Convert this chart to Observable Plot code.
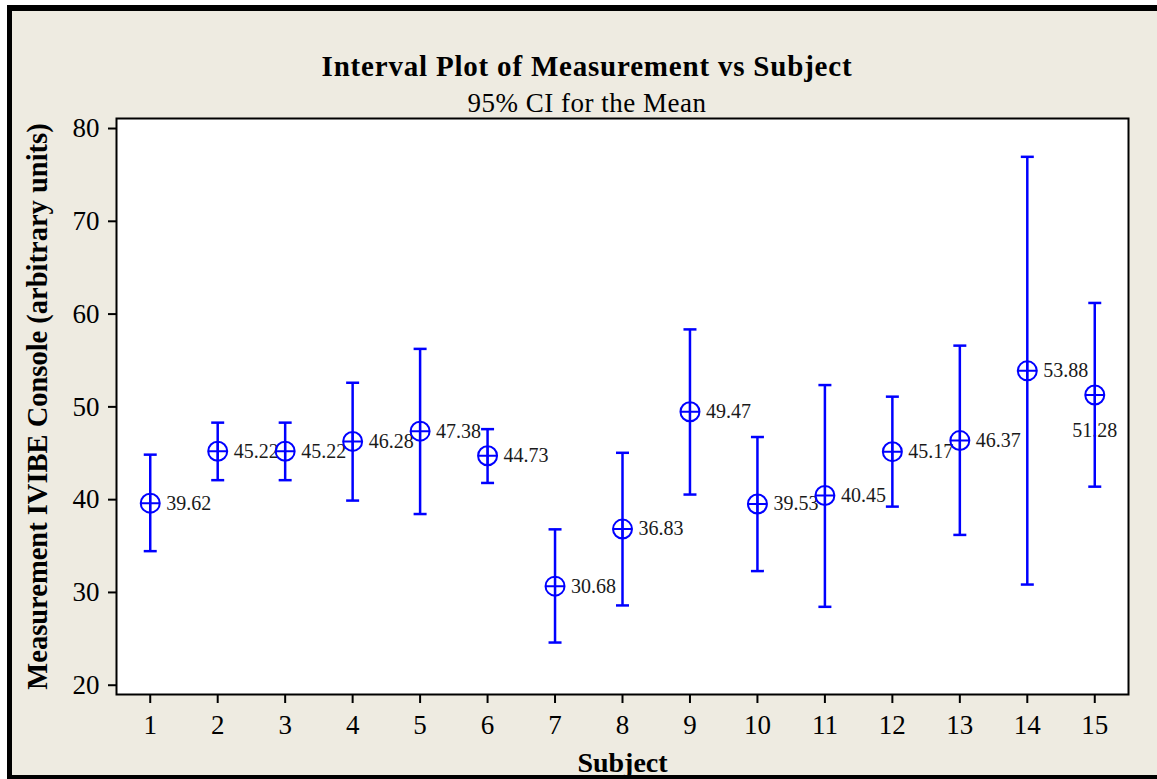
<!DOCTYPE html>
<html>
<head>
<meta charset="utf-8">
<script src="https://cdn.jsdelivr.net/npm/d3@7"></script>
<script src="https://cdn.jsdelivr.net/npm/@observablehq/plot@0.6"></script>
<style>
  html, body { margin: 0; padding: 0; background: #ffffff; }
  #page { position: relative; width: 1157px; height: 779px; overflow: hidden;
          font-family: "Liberation Serif", "Times New Roman", serif; }
  #bg { position: absolute; left: 7px; top: 5px; width: 1150px; height: 774px; box-sizing: border-box;
        background: #EEEBE1; border-top: 6px solid #000; border-left: 5px solid #000; border-bottom: 4px solid #000; }
  #title { position: absolute; left: 587px; top: 52px; transform: translateX(-50%);
           font-weight: bold; font-size: 29px; line-height: 29px; letter-spacing: 0.8px; white-space: nowrap; color: #000; }
  #subtitle { position: absolute; left: 587px; top: 90px; transform: translateX(-50%);
              font-size: 27px; line-height: 27px; letter-spacing: 0.5px; white-space: nowrap; color: #000; }
  #chart { position: absolute; left: 0; top: 100px; }
</style>
</head>
<body>
<div id="page">
  <div id="bg"></div>
  <div id="title">Interval Plot of Measurement vs Subject</div>
  <div id="subtitle">95% CI for the Mean</div>
  <div id="chart"></div>
</div>
<script>
// ---- data ----
const subjects = [1, 2, 3, 4, 5, 6, 7, 8, 9, 10, 11, 12, 13, 14, 15];
const means = [39.62, 45.22, 45.22, 46.28, 47.38, 44.73, 30.68, 36.83, 49.47, 39.53, 40.45, 45.17, 46.37, 53.88, 51.28];
const lower = [34.45, 42.10, 42.10, 39.90, 38.45, 41.80, 24.60, 28.60, 40.55, 32.30, 28.45, 39.25, 36.20, 30.85, 41.40];
const upper = [44.85, 48.30, 48.30, 52.60, 56.25, 47.60, 36.80, 45.05, 58.35, 46.75, 52.35, 51.10, 56.60, 76.95, 61.20];
const yTicks = [20, 30, 40, 50, 60, 70, 80];
const xLabel = "Subject";
const yLabel = "Measurement IVIBE Console (arbitrary units)";

const rows = subjects.map((s, i) => ({subject: s, mean: means[i], lo: lower[i], hi: upper[i], label: means[i].toFixed(2)}));
const labelRight = rows.filter(d => d.subject !== 15);
const labelBelow = rows.filter(d => d.subject === 15);

const BLUE = "#0000FF";
const capSymbol = {
  draw(ctx, size) {
    const r = Math.sqrt(size / Math.PI);
    ctx.moveTo(-r, 0); ctx.lineTo(r, 0);
  }
};
const circlePlus = {
  draw(ctx, size) {
    const r = Math.sqrt(size / Math.PI);
    ctx.moveTo(r, 0); ctx.arc(0, 0, r, 0, 2 * Math.PI);
    ctx.moveTo(-r, 0); ctx.lineTo(r, 0);
    ctx.moveTo(0, -r); ctx.lineTo(0, r);
  }
};

const chart = Plot.plot({
  width: 1157,
  height: 679,
  marginTop: 18,
  marginBottom: 85,
  marginLeft: 116,
  marginRight: 29,
  style: {background: "transparent", fontFamily: "'Liberation Serif', 'Times New Roman', serif", color: "#000"},
  x: {type: "linear", domain: [0.5, 15.5]},
  y: {type: "linear", domain: [19.0, 81.08]},
  marks: [
    Plot.frame({fill: "white", stroke: "none"}),
    Plot.text(labelRight, {x: "subject", y: "mean", text: "label", dx: 16, textAnchor: "start", lineAnchor: "middle", fontSize: 20, fill: "#1a1a1a"}),
    Plot.text(labelBelow, {x: "subject", y: "mean", text: "label", dy: 36, textAnchor: "middle", lineAnchor: "middle", fontSize: 20, fill: "#1a1a1a"}),
    Plot.ruleX(rows, {x: "subject", y1: "lo", y2: "hi", stroke: BLUE, strokeWidth: 2.5}),
    Plot.dot(rows, {x: "subject", y: "lo", symbol: capSymbol, r: 6.5, fill: "none", stroke: BLUE, strokeWidth: 2.5}),
    Plot.dot(rows, {x: "subject", y: "hi", symbol: capSymbol, r: 6.5, fill: "none", stroke: BLUE, strokeWidth: 2.5}),
    Plot.dot(rows, {x: "subject", y: "mean", symbol: circlePlus, r: 9.5, fill: "none", stroke: BLUE, strokeWidth: 2}),
    Plot.frame({fill: "none", stroke: "black", strokeWidth: 2}),
    Plot.axisY({ticks: yTicks, tickSize: 8, tickPadding: 9, fontSize: 27, strokeWidth: 2, label: null, stroke: "black", fill: "black"}),
    Plot.axisX({ticks: subjects, tickSize: 9, tickPadding: 11, fontSize: 27, strokeWidth: 2, label: null, stroke: "black", fill: "black"}),
    Plot.text([yLabel], {frameAnchor: "left", rotate: -90, dx: -79, textAnchor: "middle", lineAnchor: "middle", fontSize: 28.5, fontWeight: "bold", fill: "black"}),
    Plot.text([xLabel], {frameAnchor: "bottom", dy: 77, textAnchor: "middle", lineAnchor: "bottom", fontSize: 28, fontWeight: "bold", fill: "black"})
  ]
});
document.getElementById("chart").appendChild(chart);
</script>
</body>
</html>
